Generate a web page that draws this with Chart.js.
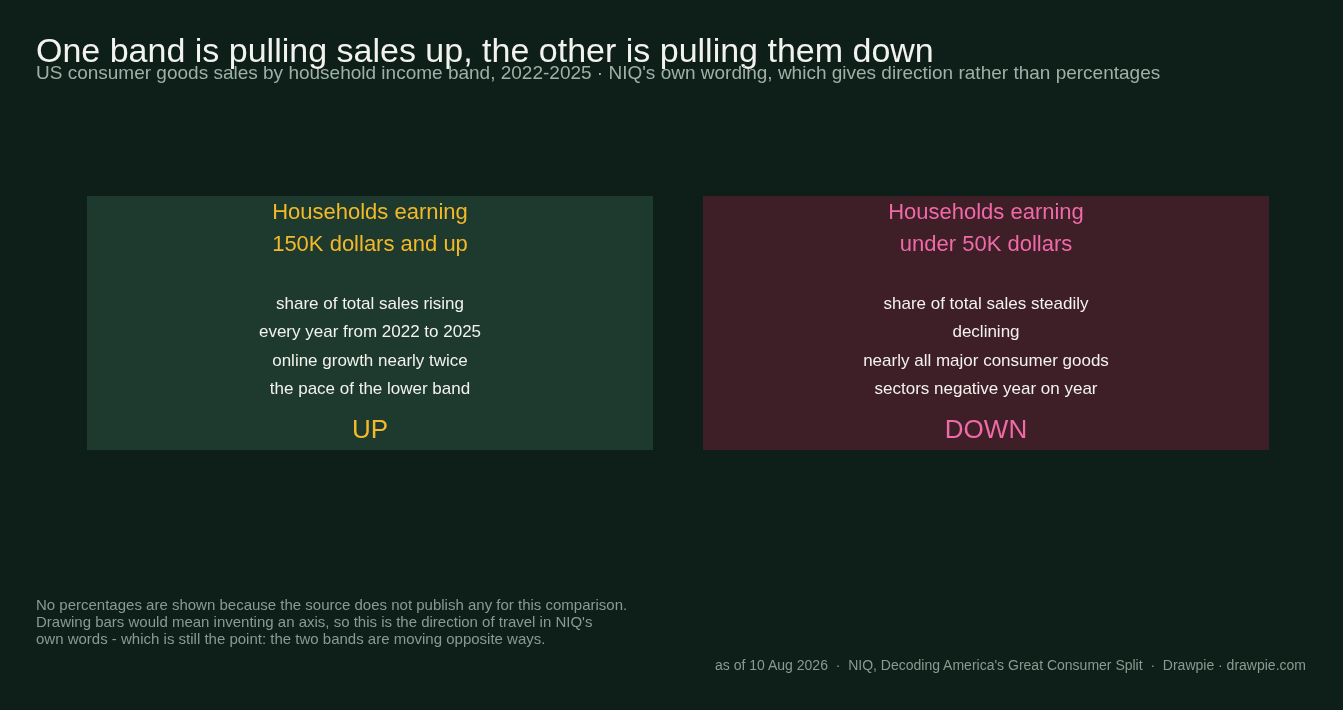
<!DOCTYPE html>
<html><head><meta charset="utf-8">
<script src="https://cdn.jsdelivr.net/npm/chart.js@4/dist/chart.umd.min.js"></script>
<style>
html,body{margin:0;padding:0;background:#0e1f1a;width:1343px;height:710px;overflow:hidden;font-family:"Liberation Sans",Arial,sans-serif}
#wrap{position:absolute;left:0;top:0;width:1343px;height:710px}
.t{position:absolute;white-space:nowrap}
</style></head><body>
<div id="wrap"><canvas id="c" width="1343" height="710"></canvas></div>
<div class="t" style="left:36px;top:31px;font-size:34px;color:#f2f2ee">One band is pulling sales up, the other is pulling them down</div>
<div class="t" style="left:36px;top:62px;font-size:19px;color:#9fb0a6">US consumer goods sales by household income band, 2022-2025 · NIQ's own wording, which gives direction rather than percentages</div>
<div class="t" style="left:36px;top:596px;font-size:15px;line-height:17px;color:#8a9a90">No percentages are shown because the source does not publish any for this comparison.<br>Drawing bars would mean inventing an axis, so this is the direction of travel in NIQ's<br>own words - which is still the point: the two bands are moving opposite ways.</div>
<div class="t" style="right:37px;top:657px;font-size:14px;color:#8a9a90">as of 10 Aug 2026 &nbsp;·&nbsp; NIQ, Decoding America's Great Consumer Split &nbsp;·&nbsp; Drawpie · drawpie.com</div>
<script>
const categories = ["Households earning 150K dollars and up", "Households earning under 50K dollars"];
const headings = [["Households earning","150K dollars and up"],["Households earning","under 50K dollars"]];
const bodies = [["share of total sales rising","every year from 2022 to 2025","online growth nearly twice","the pace of the lower band"],
  ["share of total sales steadily","declining","nearly all major consumer goods","sectors negative year on year"]];
const directions = ["UP","DOWN"];
const cardValues = [1,1];
const cardColors = ["#1e3a2e","#3e1e27"];
const accent = ["#f2b92a","#f06aa8"];

const textPlugin = {id:'cardText', afterDatasetsDraw(chart){
  const ctx=chart.ctx; const meta=chart.getDatasetMeta(0);
  meta.data.forEach((bar,i)=>{
    const x=bar.x, top=bar.y;
    ctx.save(); ctx.textAlign='center'; ctx.textBaseline='middle';
    ctx.fillStyle=accent[i]; ctx.font='22px "Liberation Sans", Arial, sans-serif';
    headings[i].forEach((l,k)=>ctx.fillText(l,x,top+17+k*32));
    ctx.fillStyle='#f2f2ee'; ctx.font='17px "Liberation Sans", Arial, sans-serif';
    bodies[i].forEach((l,k)=>ctx.fillText(l,x,top+108+k*28.5));
    ctx.fillStyle=accent[i]; ctx.font='26px "Liberation Sans", Arial, sans-serif';
    ctx.fillText(directions[i],x,top+235);
    ctx.restore();
  });
}};
new Chart(document.getElementById('c'),{
  type:'bar',
  data:{labels:categories,datasets:[{data:cardValues,backgroundColor:cardColors,borderWidth:0,categoryPercentage:1,barPercentage:0.919}]},
  options:{responsive:false,animation:false,
    layout:{padding:{left:62,right:49,top:196,bottom:260}},
    plugins:{legend:{display:false},tooltip:{enabled:false}},
    scales:{x:{display:false},y:{display:false,min:0,max:1}}},
  plugins:[textPlugin]
});
</script></body></html>
